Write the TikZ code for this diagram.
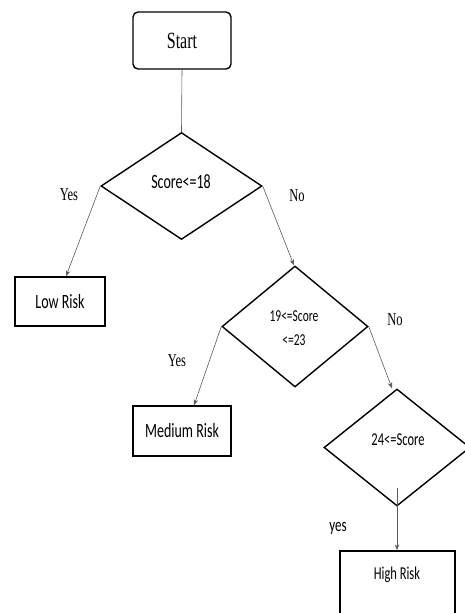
\documentclass[tikz,border=0pt]{standalone}
\usepackage{fontspec}
\setmainfont{Liberation Serif}
\newfontfamily\calfont{Carlito}
\usetikzlibrary{shapes.geometric,arrows.meta}
\newcommand\vs[1]{\scalebox{1}[1.45]{#1}}
\begin{document}
\begin{tikzpicture}[x=1pt,y=-1pt,
  box/.style={draw=black, line width=1.4pt, rectangle, inner sep=0pt, text=black},
  dia/.style={draw=black, line width=1.4pt, diamond, inner sep=0pt},
  lbl/.style={inner sep=0pt, text=black},
  conn/.style={draw=black!65, line width=0.6pt},
  arr/.style={conn, -{Stealth[length=6pt,width=4.5pt]}}]
\useasboundingbox (0,0) rectangle (465,613);
% boxes
\node[box, rounded corners=5pt, minimum width=98pt, minimum height=57pt,
      font=\fontsize{16}{18}\selectfont] (start) at (182,40.5) {\vs{Start}};
\node[box, minimum width=90pt, minimum height=49pt,
      font=\calfont\fontsize{14}{16}\selectfont] (low) at (60,301.5) {\vs{Low Risk}};
\node[box, minimum width=98pt, minimum height=50pt,
      font=\calfont\fontsize{14}{16}\selectfont] (med) at (182,431) {\vs{Medium Risk}};
\node[box, minimum width=115pt, minimum height=98pt] (high) at (397.5,600) {};
\node[lbl, font=\calfont\fontsize{12.5}{14}\selectfont] (hightxt) at (397,575) {\vs{High Risk}};
% diamonds
\node[dia, minimum width=161pt, minimum height=107pt] (d1) at (181.5,186) {};
\node[dia, minimum width=146pt, minimum height=121pt] (d2) at (295,326.5) {};
\node[dia, minimum width=146pt, minimum height=117pt] (d3) at (397,447.5) {};
% diamond texts
\node[lbl, font=\calfont\fontsize{14}{16}\selectfont] (t1) at (181,182) {\vs{Score<=18}};
\node[lbl, font=\calfont\fontsize{11.5}{24}\selectfont, align=center] (t2) at (294,328) {\vs{19<=Score}\\\vs{<=23}};
\node[lbl, font=\calfont\fontsize{12.5}{14}\selectfont] (t3) at (398,440) {\vs{24<=Score}};
% branch labels
\node[lbl, font=\fontsize{12.5}{14}\selectfont] (y1) at (69,195) {\vs{Yes}};
\node[lbl, font=\fontsize{12.5}{14}\selectfont] (n1) at (297,196) {\vs{No}};
\node[lbl, font=\fontsize{12.5}{14}\selectfont] (n2) at (395,320) {\vs{No}};
\node[lbl, font=\fontsize{12.5}{14}\selectfont] (y2) at (177,361) {\vs{Yes}};
\node[lbl, font=\calfont\fontsize{13}{15}\selectfont] (y3) at (338,528) {\vs{yes}};
% connectors
\draw[conn] (start.south) -- (d1.north);
\draw[arr] (d1.west) -- ([xshift=6pt]low.north);
\draw[arr] (d1.east) -- ([xshift=-1pt]d2.north);
\draw[arr] (d2.west) -- ([xshift=12pt]med.north);
\draw[arr] (d2.east) -- ([xshift=-5pt]d3.north);
\draw[arr] ([yshift=19pt]d3.south) -- (d3.south |- high.north);
\end{tikzpicture}
\end{document}
